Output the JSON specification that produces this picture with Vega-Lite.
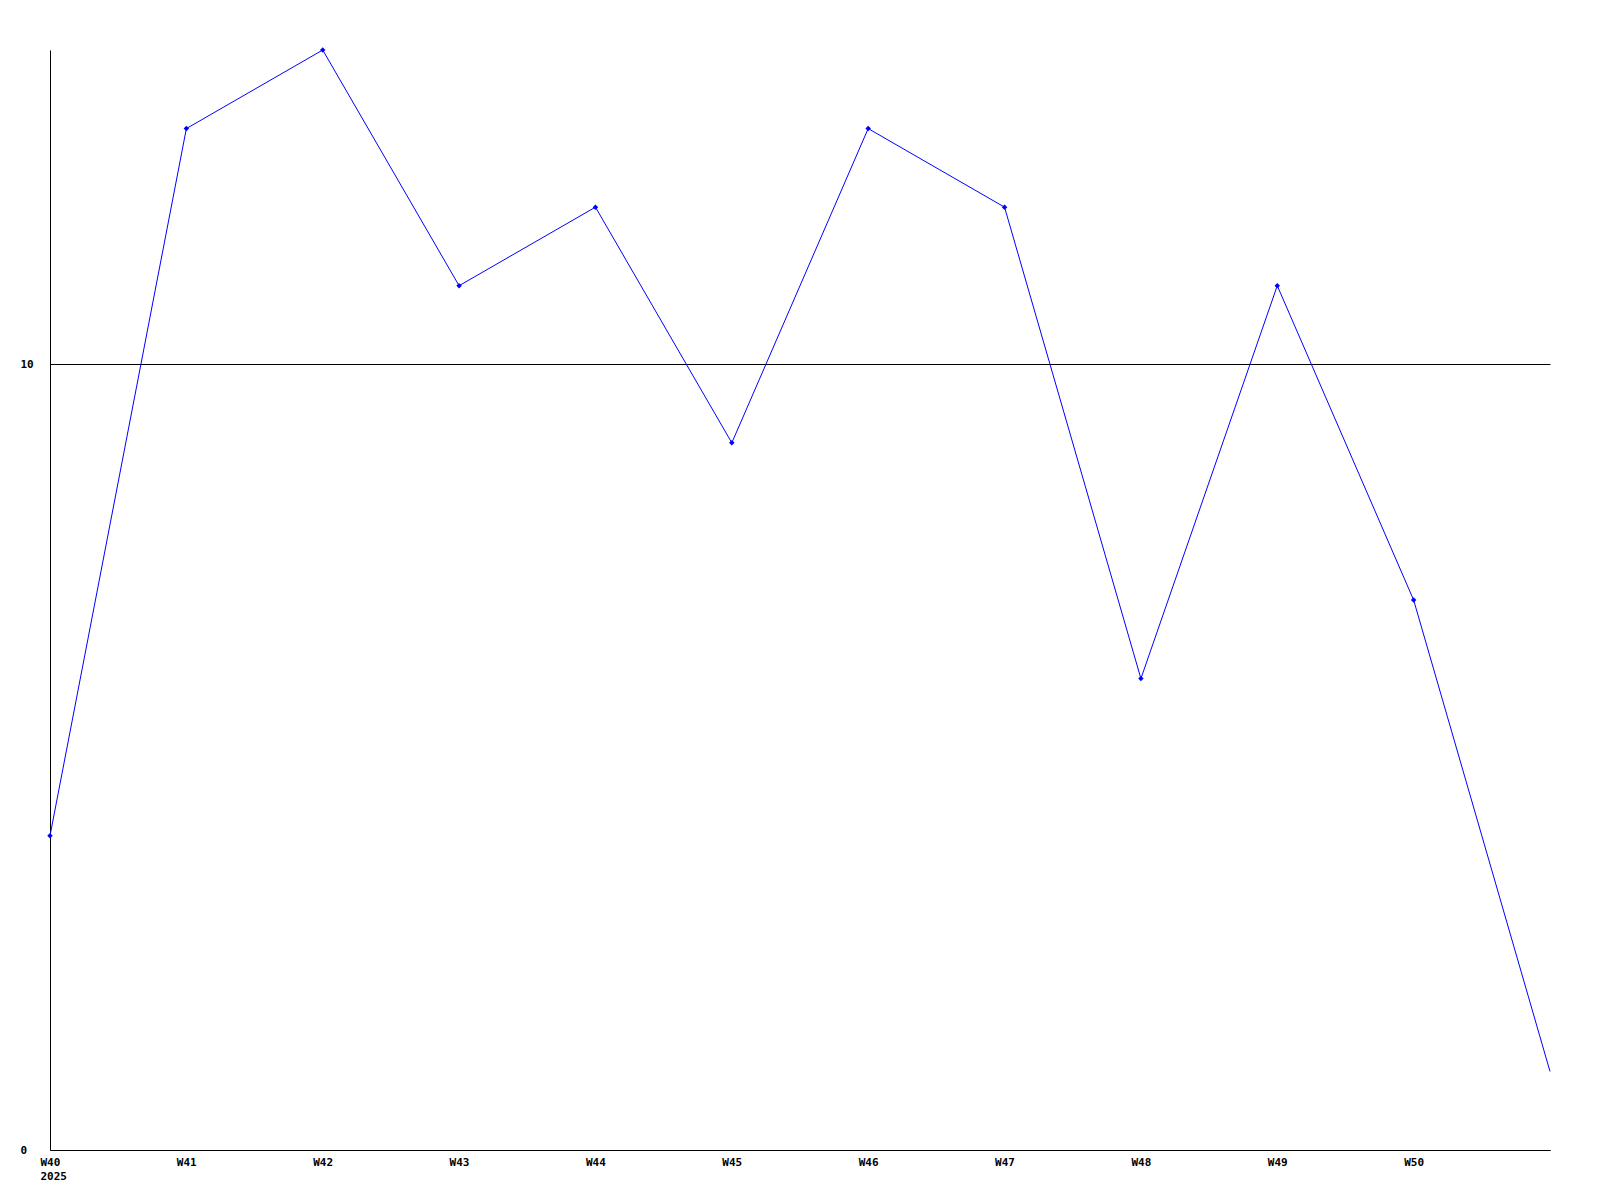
{
  "$schema": "https://vega.github.io/schema/vega-lite/v6.json",
  "width": 1500,
  "height": 1100,
  "autosize": {"type": "none"},
  "padding": {"left": 50, "top": 50, "right": 50, "bottom": 50},
  "background": "white",
  "config": {
    "view": {"stroke": null},
    "axis": {"labelFont": "DejaVu Sans Mono", "labelFontWeight": "bold", "labelFontSize": 11, "labelColor": "black", "domainColor": "black", "domainWidth": 1, "ticks": false, "title": null}
  },
  "data": {
    "values": [
      {"week": 40, "value": 4},
      {"week": 41, "value": 13},
      {"week": 42, "value": 14},
      {"week": 43, "value": 11},
      {"week": 44, "value": 12},
      {"week": 45, "value": 9},
      {"week": 46, "value": 13},
      {"week": 47, "value": 12},
      {"week": 48, "value": 6},
      {"week": 49, "value": 11},
      {"week": 50, "value": 7},
      {"week": 51, "value": 1}
    ]
  },
  "encoding": {
    "x": {
      "field": "week", "type": "quantitative",
      "scale": {"domain": [40, 51], "nice": false, "zero": false},
      "axis": {"values": [40, 41, 42, 43, 44, 45, 46, 47, 48, 49, 50], "grid": false, "labelAlign": "left", "labelOffset": -10, "labelPadding": 6, "labelBaseline": "top", "labelLineHeight": 14, "labelFlush": false, "labelOverlap": false,
        "labelExpr": "datum.value == 40 ? ['W40', '2025'] : 'W' + datum.value"}
    },
    "y": {
      "field": "value", "type": "quantitative",
      "scale": {"domain": [0, 14], "nice": false},
      "axis": {"values": [0, 10], "grid": true, "gridColor": "black", "gridOpacity": 1, "gridWidth": 1, "labelAlign": "left", "labelPadding": 30, "labelBaseline": "middle"}
    }
  },
  "layer": [
    {"mark": {"type": "line", "color": "#0000ff", "strokeWidth": 1}},
    {
      "transform": [{"filter": "datum.week < 51"}],
      "mark": {"type": "point", "shape": "diamond", "filled": true, "color": "#0000ff", "size": 30, "opacity": 1}
    }
  ]
}
